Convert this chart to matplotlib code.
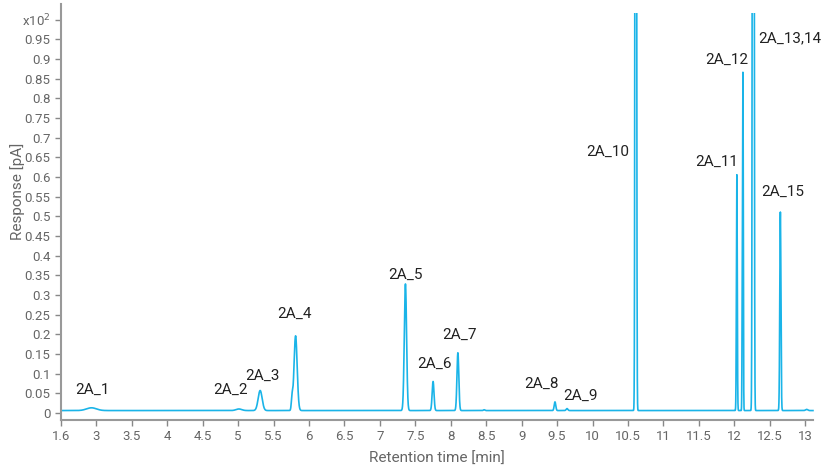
import numpy as np
import matplotlib.pyplot as plt
from matplotlib.patches import Rectangle

plt.rcParams['font.family'] = ['Roboto', 'DejaVu Sans']

# peaks (retention time [min], height [pA x100], sigma [min])
peak_rt = [2.93, 5.01, 5.31, 5.76, 5.81, 7.36, 7.75, 8.10, 8.47, 9.47, 9.64,
           10.61, 12.036, 12.112, 12.122, 12.262, 12.273, 12.65, 13.02]
peak_height = [0.007, 0.004, 0.051, 0.03, 0.19, 0.322, 0.074, 0.147, 0.002, 0.022, 0.005,
               6.0, 0.60, 0.22, 0.85, 3.0, 3.0, 0.505, 0.003]
peak_sigma = [0.07, 0.04, 0.028, 0.01, 0.022, 0.016, 0.013, 0.013, 0.01, 0.011, 0.012,
              0.0075, 0.006, 0.004, 0.005, 0.007, 0.007, 0.008, 0.015]
baseline = 0.006
top_cut = 1.018  # trace runs off the plotted range here

labels = ["2A_1", "2A_2", "2A_3", "2A_4", "2A_5", "2A_6", "2A_7", "2A_8",
          "2A_9", "2A_10", "2A_11", "2A_12", "2A_13,14", "2A_15"]
label_x = [2.94, 4.89, 5.34, 5.79, 7.36, 7.77, 8.12, 9.28, 9.83,
           10.21, 11.75, 11.89, 12.78, 12.69]
label_y = [0.058, 0.058, 0.094, 0.252, 0.351, 0.125, 0.198, 0.074, 0.043,
           0.664, 0.639, 0.898, 0.954, 0.562]

xticks = [2.5, 3, 3.5, 4, 4.5, 5, 5.5, 6, 6.5, 7, 7.5, 8, 8.5, 9, 9.5, 10,
          10.5, 11, 11.5, 12, 12.5, 13]
xtick_labels = ["1.6"] + ["%g" % v for v in xticks[1:]]
yticks = [i * 0.05 for i in range(21)]
ytick_labels = ["%g" % round(v, 2) for v in yticks[:-1]] + ["x10$^2$"]

t = np.linspace(2.5, 13.11, 15000)
signal = np.full_like(t, baseline)
for rt, h, s in zip(peak_rt, peak_height, peak_sigma):
    signal += h * np.exp(-0.5 * ((t - rt) / s) ** 2)

fig = plt.figure(figsize=(8.22, 4.69), dpi=100)
ax = fig.add_axes([0.0742, 0.1045, 0.9148, 0.887])
line, = ax.plot(t, signal, color="#1ab4e8", lw=1.2)
clip = Rectangle((2.4, -0.1), 11, top_cut + 0.1, transform=ax.transData)
line.set_clip_path(clip)

for name, x, y in zip(labels, label_x, label_y):
    ax.text(x, y, name, ha="center", va="center", fontsize=11, color="#222222")

ax.set_xlim(2.5, 13.11)
ax.set_ylim(-0.018, 1.04)
ax.set_xticks(xticks)
ax.set_xticklabels(xtick_labels)
ax.set_yticks(yticks)
ax.set_yticklabels(ytick_labels)
ax.tick_params(colors="#888888", labelcolor="#666666", labelsize=9.5, length=4, width=1)
for side in ["top", "right"]:
    ax.spines[side].set_visible(False)
for side in ["left", "bottom"]:
    ax.spines[side].set_color("#999999")
    ax.spines[side].set_linewidth(1.5)

ax.set_xlabel("Retention time [min]", fontsize=11, color="#666666", labelpad=6)
ax.set_ylabel("Response [pA]", fontsize=11, color="#666666")
ax.yaxis.set_label_coords(-0.048, 0.55)

fig.savefig("out.png", dpi=100)
